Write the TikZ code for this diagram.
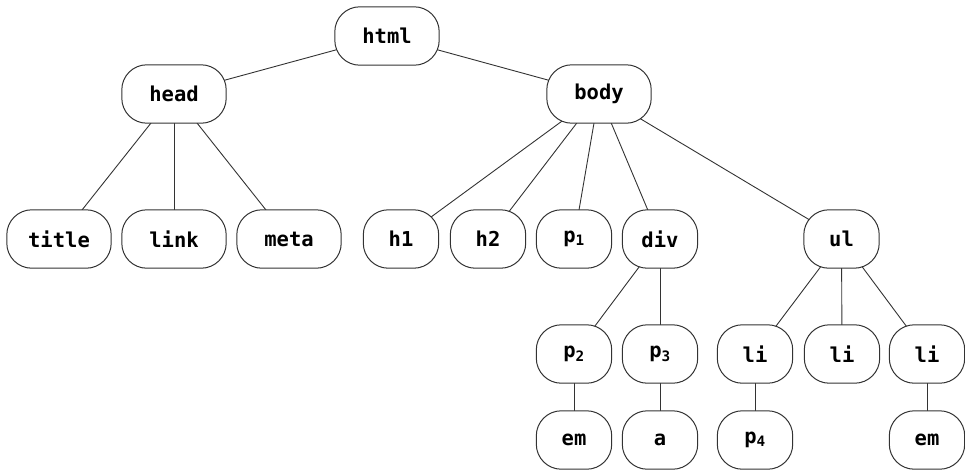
\documentclass[tikz,border=0pt]{standalone}
\usepackage{fontspec}
\setmonofont{DejaVu Sans Mono}
\usetikzlibrary{backgrounds}
\tikzset{
  tag/.style={inner sep=0pt, minimum height=58pt,
    font=\ttfamily\bfseries\fontsize{20.5}{20.5}\selectfont},
  wide/.style={tag, minimum width=104pt},
  narrow/.style={tag, minimum width=75pt},
  tagline/.style={draw=black!80, line width=1pt, fill=white, rounded corners=25pt},
  link/.style={draw=black!80, line width=0.9pt}
}
\begin{document}
\begin{tikzpicture}[x=1pt,y=-1pt]
\useasboundingbox (0,0) rectangle (965,469);
\node[wide] (html) at (387,36) {html};
\node[wide] (head) at (174,94) {head};
\node[wide] (body) at (599,94) {body};
\node[wide] (title) at (59,239) {title};
\node[wide] (link) at (174,239) {link};
\node[wide] (meta) at (289,239) {meta};
\node[narrow] (h1) at (401,239) {h1};
\node[narrow] (h2) at (488,239) {h2};
\node[narrow] (p1) at (574,239) {p\textsubscript{1}};
\node[narrow] (div) at (660,239) {div};
\node[narrow] (ul) at (841.5,239) {ul};
\node[narrow] (p2) at (574,354) {p\textsubscript{2}};
\node[narrow] (p3) at (660,354) {p\textsubscript{3}};
\node[narrow] (li1) at (755,354) {li};
\node[narrow] (li2) at (842,354) {li};
\node[narrow] (li3) at (927,354) {li};
\node[narrow] (em1) at (574,440) {em};
\node[narrow] (a) at (660,440) {a};
\node[narrow] (p4) at (755,440) {p\textsubscript{4}};
\node[narrow] (em2) at (927,440) {em};
\begin{scope}[on background layer]
\foreach \u/\v in {html/head, html/body, head/title, head/link, head/meta,
  body/h1, body/h2, body/p1, body/div, body/ul, div/p2, div/p3,
  ul/li1, ul/li2, ul/li3, p2/em1, p3/a, li1/p4, li3/em2}
  \draw[link] (\u.center) -- (\v.center);
\foreach \n in {html, head, body, title, link, meta, h1, h2, p1, div, ul,
  p2, p3, li1, li2, li3, em1, a, p4, em2}
  \draw[tagline] (\n.north west) rectangle (\n.south east);
\end{scope}
\end{tikzpicture}
\end{document}
